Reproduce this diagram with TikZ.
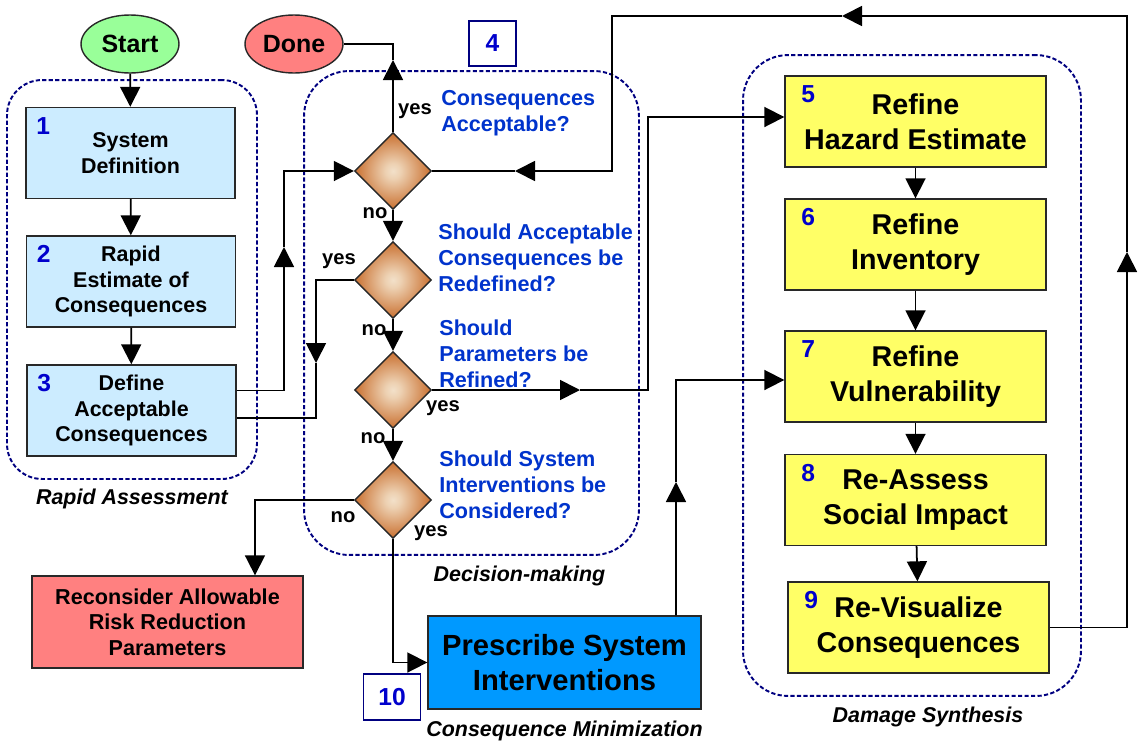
\documentclass[tikz,border=0pt]{standalone}
\usepackage{fontspec}
\setmainfont{Liberation Sans}
\usetikzlibrary{arrows.meta,shapes.geometric,positioning}

\pgfdeclareradialshading{diamondshade}{\pgfpoint{0bp}{0bp}}{%
  rgb(0bp)=(0.95,0.88,0.79); rgb(5bp)=(0.93,0.82,0.70);
  rgb(25bp)=(0.79,0.44,0.19); rgb(50bp)=(0.79,0.44,0.19)}

\begin{document}
\begin{tikzpicture}[x=0.02cm, y=-0.02cm, font=\bfseries,
    conn/.style={line width=1pt},
    arr/.style={conn, -{Triangle[length=0.4cm, width=0.4cm]}},
    grp/.style={draw=GroupBorder, line width=1.1pt, dash pattern=on 2.4pt off 1.3pt},
    bluebox/.style={draw=BoxBorder, fill=SysFill, line width=0.8pt,
        minimum width=4.18cm, minimum height=1.82cm, align=center,
        font=\fontsize{12.2}{14.6}\selectfont\bfseries},
    yellowbox/.style={draw=BoxBorder, fill=SynthFill, line width=0.8pt,
        minimum width=5.22cm, minimum height=1.82cm, align=center,
        font=\fontsize{16.3}{19.8}\selectfont\bfseries},
    startend/.style={ellipse, draw=BoxBorder, line width=0.8pt,
        minimum width=1.96cm, minimum height=1.16cm, inner sep=0pt,
        font=\fontsize{14.2}{16}\selectfont\bfseries},
    decision/.style={diamond, aspect=1, draw=BoxBorder, line width=0.8pt,
        minimum width=1.54cm, minimum height=1.54cm, inner sep=0pt,
        shading=diamondshade},
    question/.style={anchor=west, inner sep=0pt, align=left, text=QText,
        font=\fontsize{12.3}{14.8}\selectfont\bfseries},
    answer/.style={font=\fontsize{11.5}{13}\selectfont\bfseries},
    numlbl/.style={text=NumText, font=\fontsize{14}{16}\selectfont\bfseries},
    tagbox/.style={draw=GroupBorder, line width=1pt, text=NumText,
        font=\fontsize{14}{16}\selectfont\bfseries},
    caption/.style={font=\fontsize{12.2}{14}\selectfont\bfseries\itshape}]

\definecolor{SysFill}{RGB}{204,236,255}
\definecolor{SynthFill}{RGB}{255,255,102}
\definecolor{PrescFill}{RGB}{0,153,255}
\definecolor{RiskFill}{RGB}{255,128,128}
\definecolor{StartFill}{RGB}{153,255,153}
\definecolor{DoneFill}{RGB}{255,128,128}
\definecolor{BoxBorder}{RGB}{40,40,40}
\definecolor{GroupBorder}{RGB}{0,0,128}
\definecolor{QText}{RGB}{0,51,204}
\definecolor{NumText}{RGB}{0,0,204}

\useasboundingbox (0,0) rectangle (1143,751);

% ── Gruppen (gestrichelt) ───────────────────────────────────
\node[grp, rounded corners=0.7cm, minimum width=5cm, minimum height=7.98cm] (rapid) at (132,279.5) {};
\node[grp, rounded corners=0.9cm, minimum width=6.7cm, minimum height=9.68cm] (decide) at (471.5,313) {};
\node[grp, rounded corners=0.9cm, minimum width=6.76cm, minimum height=12.82cm] (damage) at (912,375.5) {};

\node[caption] (capRA) at ([yshift=-0.38cm]rapid.south) {Rapid Assessment};
\node[caption] (capDM) at (519.5,576) {Decision-making};
\node[caption] (capDS) at (928,717) {Damage Synthesis};

% ── Start / Done ────────────────────────────────────────────
\node[startend, fill=StartFill] (start) at (130,44) {Start};
\node[startend, fill=DoneFill] (done) at (294,44) {Done};

% ── Rapid Assessment: Boxen 1-3 ─────────────────────────────
\node[bluebox] (b1) at (130.5,153) {System\\Definition};
\node[bluebox] (b2) at (131,281.5) {Rapid\\Estimate of\\Consequences};
\node[bluebox] (b3) at (131.5,410.5) {Define\\Acceptable\\Consequences};
\node[numlbl] (n1) at ([xshift=0.36cm,yshift=-0.38cm]b1.north west) {1};
\node[numlbl] (n2) at ([xshift=0.36cm,yshift=-0.38cm]b2.north west) {2};
\node[numlbl] (n3) at ([xshift=0.36cm,yshift=-0.38cm]b3.north west) {3};

% ── Decision-making: Rauten ─────────────────────────────────
\node[tagbox, minimum width=0.94cm, minimum height=0.9cm] (tag4) at (492.5,43.5) {4};
\node[decision] (d1) at (393,171) {};
\node[decision] (d2) at (393,280) {};
\node[decision] (d3) at (393,390) {};
\node[decision] (d4) at (393,500) {};

\node[question] (q1) at (441,113.5) {Consequences\\Acceptable?};
\node[question] (q2) at (438,258) {Should Acceptable\\Consequences be\\Redefined?};
\node[question] (q3) at (439,354) {Should\\Parameters be\\Refined?};
\node[question] (q4) at (439,485) {Should System\\Interventions be\\Considered?};

\node[answer] (yes1) at (415,111) {yes};
\node[answer] (no1)  at (375,213) {no};
\node[answer] (yes2) at (339,261) {yes};
\node[answer] (no2)  at (374,330) {no};
\node[answer] (yes3) at (443,408) {yes};
\node[answer] (no3)  at (373,438) {no};
\node[answer] (no4)  at (343,517) {no};
\node[answer] (yes4) at (431,533) {yes};

% ── Damage Synthesis: Boxen 5-9 ─────────────────────────────
\node[yellowbox] (b5) at (915.5,121.5) {Refine\\Hazard Estimate};
\node[yellowbox] (b6) at (915.5,244.5) {Refine\\Inventory};
\node[yellowbox] (b7) at (915.5,376.5) {Refine\\Vulnerability};
\node[yellowbox] (b8) at (915.5,500) {Re-Assess\\Social Impact};
\node[yellowbox] (b9) at (918.5,627.5) {Re-Visualize\\Consequences};
\foreach \i in {5,...,9}
    \node[numlbl] (n\i) at ([xshift=0.48cm,yshift=-0.38cm]b\i.north west) {\i};

% ── Unten: Reconsider / Prescribe ───────────────────────────
\node[draw=BoxBorder, fill=RiskFill, line width=0.8pt,
      minimum width=5.42cm, minimum height=1.84cm, align=center,
      font=\fontsize{12.3}{14.6}\selectfont\bfseries] (risk) at (167.5,622)
      {Reconsider Allowable\\Risk Reduction\\Parameters};
\node[draw=BoxBorder, fill=PrescFill, line width=0.8pt,
      minimum width=5.46cm, minimum height=1.86cm, align=center,
      font=\fontsize{16.6}{20}\selectfont\bfseries] (b10) at (564.5,662.5)
      {Prescribe System\\Interventions};
\node[tagbox, minimum width=1.14cm, minimum height=0.92cm] (tag10) at (392,697) {10};
\node[caption] (capCM) at ([yshift=-0.42cm]b10.south) {Consequence Minimization};

% ── Hilfspunkte fuer Pfeile ─────────────────────────────────
\coordinate (upA) at (284,247);
\coordinate (dnB) at (316,363);
\coordinate (doneTip) at (393,60);
\coordinate (rtC) at (580,390);
\coordinate (turnC) at (648,390);
\coordinate (upD) at (1127,252);
\coordinate (topD) at (842,16);
\coordinate (turnD) at (612,171);
\coordinate (lfD) at (515,171);
\coordinate (upE) at (676,482);

% ── Verbindungen ────────────────────────────────────────────
\draw[arr] (start) -- (b1);
\draw[arr] (b1) -- (b2);
\draw[arr] (b2) -- (b3);

\draw[arr] ([yshift=0.4cm]b3.east) -| (upA);
\draw[arr] (upA) |- (d1.west);
\draw[arr] (d2.west) -| (dnB);
\draw[conn] (dnB) |- ([yshift=-0.15cm]b3.east);

\draw[arr] (d1.north) -- (doneTip);
\draw[conn] (doneTip) |- (done.east);
\draw[arr] (d1) -- (d2);
\draw[arr] (d2) -- (d3);
\draw[arr] (d3) -- (d4);

\draw[arr] (d3.east) -- (rtC);
\draw[arr] (rtC) -- (turnC) |- ([yshift=0.09cm]b5.west);

\foreach \a/\b in {b5/b6, b6/b7, b7/b8, b8/b9}
    \draw[arr] (\a) -- (\b);

\draw[arr] (b9.east) -| (upD);
\draw[arr] (upD) |- (topD);
\draw[arr] (topD) -| (turnD) -- (lfD);
\draw[conn] (lfD) -- (d1.east);

\draw[arr] (d4.west) -| ([xshift=1.75cm]risk.north);
\draw[arr] (d4.south) |- (b10.west);
\draw[arr] ([xshift=2.23cm]b10.north) -- (upE);
\draw[arr] (upE) |- ([yshift=-0.07cm]b7.west);

\end{tikzpicture}
\end{document}
